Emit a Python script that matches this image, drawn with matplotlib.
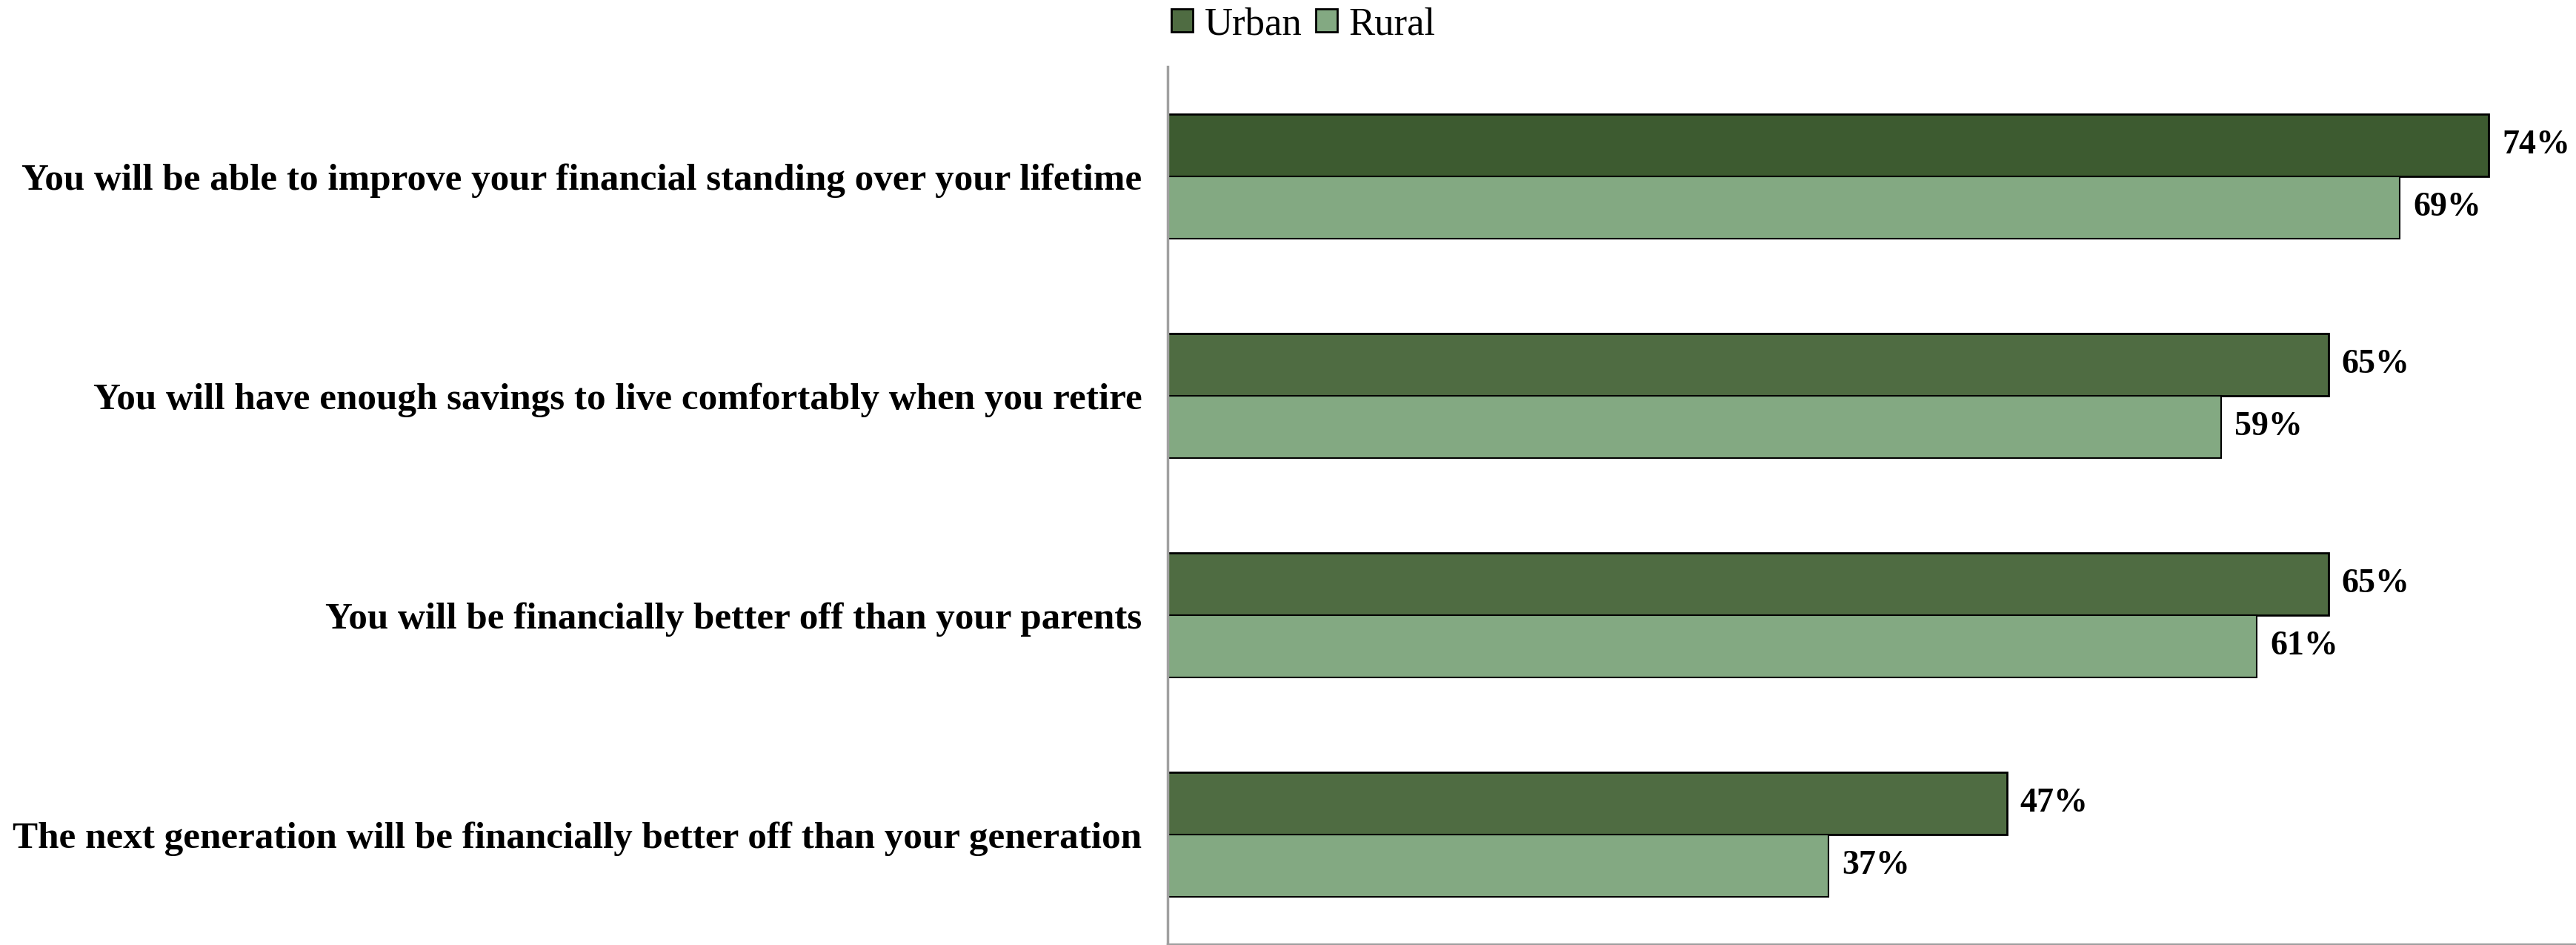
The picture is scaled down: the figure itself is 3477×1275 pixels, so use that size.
import matplotlib.pyplot as plt
import numpy as np

categories = [
    "You will be able to improve your financial standing over your lifetime",
    "You will have enough savings to live comfortably when you retire",
    "You will be financially better off than your parents",
    "The next generation will be financially better off than your generation",
]
urban = [74, 65, 65, 47]
rural = [69, 59, 61, 37]
series = ["Urban", "Rural"]

urban_col = ["#3d5b30", "#4f6c42", "#4f6c42", "#4f6c42"]
rural_col = "#83a982"

plt.rcParams['font.family'] = ['Liberation Serif', 'DejaVu Serif']

fig = plt.figure(figsize=(34.77, 12.75), dpi=100)
ax = fig.add_axes([1576/3477, 1/1275, 1928/3477, 1184/1275])

y = np.arange(len(categories))
h = 0.284
ax.barh(y - h/2, urban, height=h, color=urban_col, edgecolor="black", linewidth=2)
ax.barh(y + h/2, rural, height=h, color=rural_col, edgecolor="black", linewidth=1.5)

for i in range(len(categories)):
    ax.text(urban[i] + 0.75, y[i] - h/2, f"{urban[i]}%", va="center", ha="left",
            fontsize=33, fontweight="bold")
    ax.text(rural[i] + 0.75, y[i] + h/2, f"{rural[i]}%", va="center", ha="left",
            fontsize=33, fontweight="bold")

ax.set_xlim(0, 80)
ax.set_ylim(3.5, -0.5)
ax.set_yticks(y)
ax.set_yticklabels(categories, fontsize=36.8, fontweight="bold")
ax.tick_params(axis="y", length=0, pad=25)
ax.set_xticks([])
for s in ["top", "right"]:
    ax.spines[s].set_visible(False)
ax.spines["left"].set_color("#a0a0a0")
ax.spines["left"].set_linewidth(2.5)
ax.spines["bottom"].set_color("#a0a0a0")
ax.spines["bottom"].set_linewidth(2.5)

handles = [plt.Rectangle((0, 0), 1, 1, facecolor="#4f6c42", edgecolor="black", linewidth=2),
           plt.Rectangle((0, 0), 1, 1, facecolor=rural_col, edgecolor="black", linewidth=2)]
fig.legend(handles, series, loc="upper center", bbox_to_anchor=(0.506, 1.03), ncol=2,
           frameon=False, fontsize=38, handlelength=0.55, handleheight=0.55,
           handletextpad=0.3, columnspacing=0.35)

plt.savefig("out.png")
